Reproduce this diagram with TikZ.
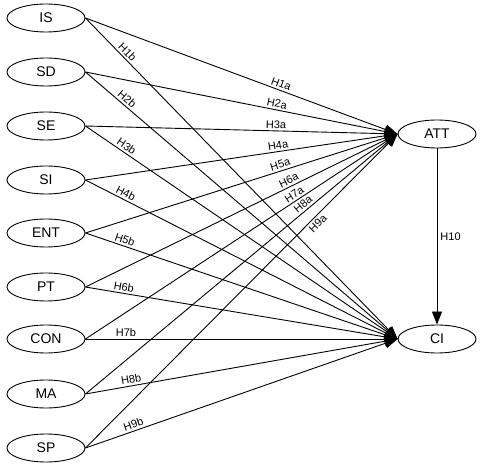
\documentclass[tikz,border=0pt]{standalone}
\usepackage{fontspec}
\setmainfont{Liberation Sans}
\usetikzlibrary{arrows.meta,shapes.geometric}

\begin{document}
\begin{tikzpicture}[x=1pt, y=-1pt, line width=0.9pt,
  construct/.style={draw, ellipse, inner sep=0pt, minimum width=78pt,
    minimum height=28pt, font=\fontsize{14}{16}\selectfont},
  hyp/.style={-{Triangle[length=13pt, width=10pt]}},
  lbl/.style={sloped, inner sep=2pt, font=\fontsize{11}{13}\selectfont}]
\useasboundingbox (0,0) rectangle (480,468);
%% Panel A: antecedents
\node[construct] (is)  at (46, 18)  {IS};
\node[construct] (sd)  at (46, 72)  {SD};
\node[construct] (se)  at (46, 126) {SE};
\node[construct] (si)  at (46, 180) {SI};
\node[construct] (ent) at (46, 233) {ENT};
\node[construct] (pt)  at (46, 287) {PT};
\node[construct] (con) at (46, 339) {CON};
\node[construct] (ma)  at (46, 394) {MA};
\node[construct] (sp)  at (46, 448) {SP};
%% Panel B: outcomes
\node[construct] (att) at (437, 134) {ATT};
\node[construct] (ci)  at (437, 339) {CI};
%% paths to ATT
\draw[hyp] (is.east)  -- node[lbl, pos=0.62, above] {H1a} (att.west);
\draw[hyp] (sd.east)  -- node[lbl, pos=0.61, above] {H2a} (att.west);
\draw[hyp] (se.east)  -- node[lbl, pos=0.61, above] {H3a} (att.west);
\draw[hyp] (si.east)  -- node[lbl, pos=0.62, above] {H4a} (att.west);
\draw[hyp] (ent.east) -- node[lbl, pos=0.63, above] {H5a} (att.west);
\draw[hyp] (pt.east)  -- node[lbl, pos=0.66, above] {H6a} (att.west);
\draw[hyp] (con.east) -- node[lbl, pos=0.68, above] {H7a} (att.west);
\draw[hyp] (ma.east)  -- node[lbl, pos=0.71, above] {H8a} (att.west);
\draw[hyp] (sp.east)  -- node[lbl, pos=0.73, below] {H9a} (att.west);
%% paths to CI
\draw[hyp] (is.east)  -- node[lbl, pos=0.12, above] {H1b} (ci.west);
\draw[hyp] (sd.east)  -- node[lbl, pos=0.12, above] {H2b} (ci.west);
\draw[hyp] (se.east)  -- node[lbl, pos=0.12, above] {H3b} (ci.west);
\draw[hyp] (si.east)  -- node[lbl, pos=0.12, above] {H4b} (ci.west);
\draw[hyp] (ent.east) -- node[lbl, pos=0.12, above] {H5b} (ci.west);
\draw[hyp] (pt.east)  -- node[lbl, pos=0.12, above] {H6b} (ci.west);
\draw[hyp] (con.east) -- node[lbl, pos=0.13, above] {H7b} (ci.west);
\draw[hyp] (ma.east)  -- node[lbl, pos=0.15, above] {H8b} (ci.west);
\draw[hyp] (sp.east)  -- node[lbl, pos=0.16, above] {H9b} (ci.west);
%% ATT to CI
\draw[hyp] (att.south) -- node[right, inner sep=3pt, font=\fontsize{11}{13}\selectfont] {H10} (ci.north);
\end{tikzpicture}
\end{document}
